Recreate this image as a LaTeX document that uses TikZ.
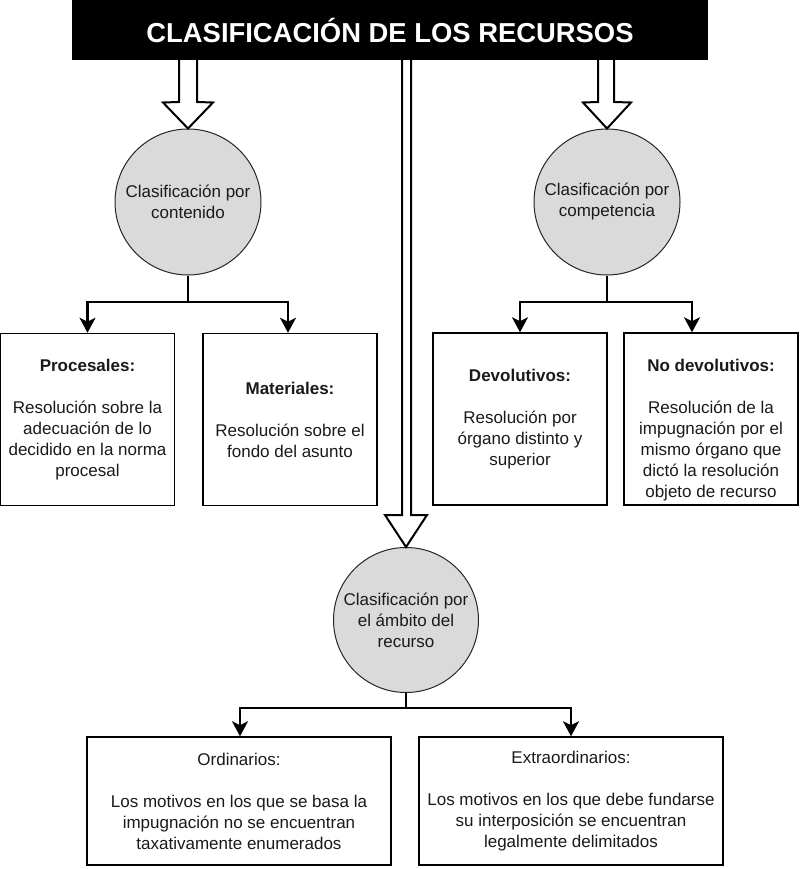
\documentclass[tikz,border=0pt]{standalone}
\usepackage{fontspec}
\setmainfont{Liberation Sans}
\usetikzlibrary{arrows.meta,calc}
\definecolor{circgray}{HTML}{DADADA}
\definecolor{txtcol}{HTML}{1A1A1A}
\begin{document}
\begin{tikzpicture}[x=1pt,y=-1pt,
  titlebox/.style={fill=black, minimum width=636pt, minimum height=60pt, inner sep=0pt,
    text=white, font=\fontsize{27.4}{32}\selectfont\bfseries},
  circ/.style={circle, draw=black!85, line width=1pt, fill=circgray, minimum size=146pt,
    inner sep=0pt, align=center, text=txtcol, font=\fontsize{17}{21}\selectfont},
  box/.style={draw=black, line width=1.5pt, fill=white, inner sep=0pt, align=center,
    text=txtcol, font=\fontsize{17}{21}\selectfont},
  smallbox/.style={box, minimum width=174pt, minimum height=172pt},
  widebox/.style={box, minimum width=304pt, minimum height=128pt},
  txt/.style={align=center, text=txtcol, font=\fontsize{17}{21}\selectfont, inner sep=0pt},
  hollow/.style={draw=black, fill=white, line width=2pt, line join=miter},
  link/.style={draw=black, line width=2.5pt},
  conn/.style={draw=black, line width=2.5pt, -{Stealth[length=15pt,width=16pt,inset=4pt]}}
]
\useasboundingbox (0,0) rectangle (800,869);

% circles
\node[circ] (circA) at (188,202) {Clasificación por\\contenido};
\node[circ] (circB) at (607,202) {Clasificación por\\competencia};
\node[circ, minimum size=145pt] (circC) at (406,620) {Clasificación por\\el ámbito del\\recurso};

% hollow arrows from title
\filldraw[hollow] (179,60) -- (179,102) -- ([xshift=-25pt,yshift=26pt]circA.north) -- (circA.north)
  -- ([xshift=25pt,yshift=26pt]circA.north) -- (197,102) -- (197,60);
\filldraw[hollow] (598,60) -- (598,102) -- ([xshift=-24pt,yshift=26pt]circB.north) -- (circB.north)
  -- ([xshift=24pt,yshift=26pt]circB.north) -- (614,102) -- (614,60);
\filldraw[hollow] (402,60) -- (402,515) -- ([xshift=-21pt,yshift=32pt]circC.north) -- (circC.north)
  -- ([xshift=21pt,yshift=32pt]circC.north) -- (411,515) -- (411,60);

% title
\node[titlebox] (title) at (390,30) {CLASIFICACIÓN DE LOS RECURSOS};

% boxes
\node[smallbox] (proc) at (87.5,419.5) {\textbf{Procesales:}\\[21pt]Resolución sobre la\\adecuación de lo\\decidido en la norma\\procesal};
\node[smallbox] (mat) at (290,419.5) {\textbf{Materiales:}\\[21pt]Resolución sobre el\\fondo del asunto};
\node[smallbox] (dev) at (520,419) {\textbf{Devolutivos:}\\[21pt]Resolución por\\órgano distinto y\\superior};
\node[smallbox] (nodev) at (711,419) {};
\node[txt] (nodevtxt) at ([yshift=-11pt]nodev.center) {\textbf{No devolutivos:}\\[21pt]Resolución de la\\impugnación por el\\mismo órgano que\\dictó la resolución\\objeto de recurso};
\node[widebox] (ord) at (239,801) {Ordinarios:\\[21pt]Los motivos en los que se basa la\\impugnación no se encuentran\\taxativamente enumerados};
\node[widebox] (ext) at (571,801) {Extraordinarios:\\[21pt]Los motivos en los que debe fundarse\\su interposición se encuentran\\legalmente delimitados};

% connectors
\coordinate (jA) at (188,302);
\coordinate (jB) at (607,302);
\coordinate (jC) at (406,708);
\draw[link] (circA.south) -- (jA);
\draw[conn] (jA) -| (proc.north);
\draw[conn] (jA) -| ([xshift=-2pt]mat.north);
\draw[link] (circB.south) -- (jB);
\draw[conn] (jB) -| (dev.north);
\draw[conn] (jB) -| ([xshift=-19pt]nodev.north);
\draw[link] (circC.south) -- (jC);
\draw[conn] (jC) -| ([xshift=1pt]ord.north);
\draw[conn] (jC) -| (ext.north);
\end{tikzpicture}
\end{document}
